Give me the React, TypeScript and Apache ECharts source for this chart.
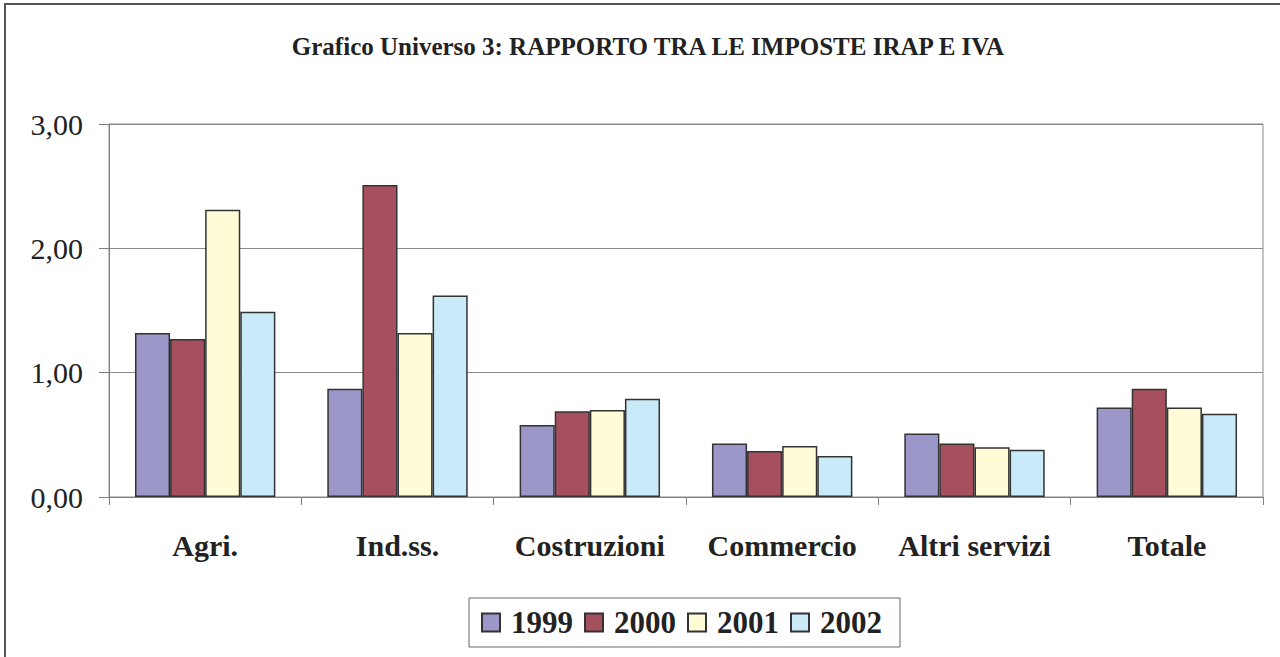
import React, { useEffect, useRef } from "react";
import * as echarts from "echarts";

const categories = ["Agri.", "Ind.ss.", "Costruzioni", "Commercio", "Altri servizi", "Totale"];
const years = ["1999", "2000", "2001", "2002"];
const v1999 = [1.32, 0.87, 0.58, 0.43, 0.51, 0.72];
const v2000 = [1.27, 2.51, 0.69, 0.37, 0.43, 0.87];
const v2001 = [2.31, 1.32, 0.7, 0.41, 0.4, 0.72];
const v2002 = [1.49, 1.62, 0.79, 0.33, 0.38, 0.67];
const yTicks = [0, 1, 2, 3];

const seriesValues = [v1999, v2000, v2001, v2002];
const colors = ["#9C97C9", "#A6505F", "#FFFBD7", "#C8EAF9"];
const FONT = "'Liberation Serif', 'Times New Roman', serif";

export default function App() {
  const ref = useRef<HTMLDivElement>(null);
  useEffect(() => {
    document.body.style.margin = "0";
    const chart = echarts.init(ref.current!, undefined, { renderer: "svg" });
    chart.setOption({
      animation: false,
      backgroundColor: "#ffffff",
      title: {
        text: "Grafico Universo 3: RAPPORTO TRA LE IMPOSTE IRAP E IVA",
        left: 643,
        textAlign: "center",
        top: 29,
        textStyle: { fontFamily: FONT, fontWeight: "bold", fontSize: 25, color: "#222" },
      },
      graphic: [
        {
          type: "polyline",
          shape: { points: [[5, 660], [5, 4], [1285, 4]] },
          style: { stroke: "#555", lineWidth: 2, fill: "none" },
          silent: true,
        },
      ],
      grid: {
        left: 109,
        right: 17,
        top: 124,
        bottom: 160,
        show: true,
        borderColor: "#8a8a8a",
        borderWidth: 1,
        backgroundColor: "transparent",
      },
      legend: {
        data: years,
        left: 469,
        top: 598,
        orient: "horizontal",
        backgroundColor: "#fff",
        borderColor: "#666",
        borderWidth: 1,
        padding: [9, 18, 9, 12],
        itemWidth: 18,
        itemHeight: 18,
        itemGap: 11,
        icon: "rect",
        textStyle: {
          fontFamily: FONT,
          fontWeight: "bold",
          fontSize: 31,
          color: "#222",
          padding: [0, 0, 0, 6],
        },
      },
      xAxis: {
        type: "category",
        data: categories,
        axisLine: { show: true, lineStyle: { color: "#808080", width: 1 } },
        axisTick: { show: true, length: 8, lineStyle: { color: "#808080" } },
        axisLabel: {
          fontFamily: FONT,
          fontWeight: "bold",
          fontSize: 30,
          color: "#222",
          margin: 33,
          interval: 0,
        },
        splitLine: { show: false },
      },
      yAxis: {
        type: "value",
        min: yTicks[0],
        max: yTicks[yTicks.length - 1],
        interval: 1,
        axisLine: { show: true, lineStyle: { color: "#808080", width: 1 } },
        axisTick: { show: true, length: 10, inside: false, lineStyle: { color: "#808080" } },
        axisLabel: {
          fontFamily: FONT,
          fontSize: 30,
          color: "#222",
          margin: 26,
          formatter: (v: number) => v.toFixed(2).replace(".", ","),
        },
        splitLine: { show: true, lineStyle: { color: "#8a8a8a", width: 1 } },
      },
      series: years.map((y, i) => ({
        name: y,
        type: "bar",
        data: seriesValues[i],
        barGap: "0%",
        barCategoryGap: "27%",
        itemStyle: { color: colors[i], borderColor: "#333", borderWidth: 1.5 },
      })),
    });
    return () => chart.dispose();
  }, []);
  return <div ref={ref} style={{ position: "absolute", left: 0, top: 0, width: 1280, height: 657 }} />;
}
